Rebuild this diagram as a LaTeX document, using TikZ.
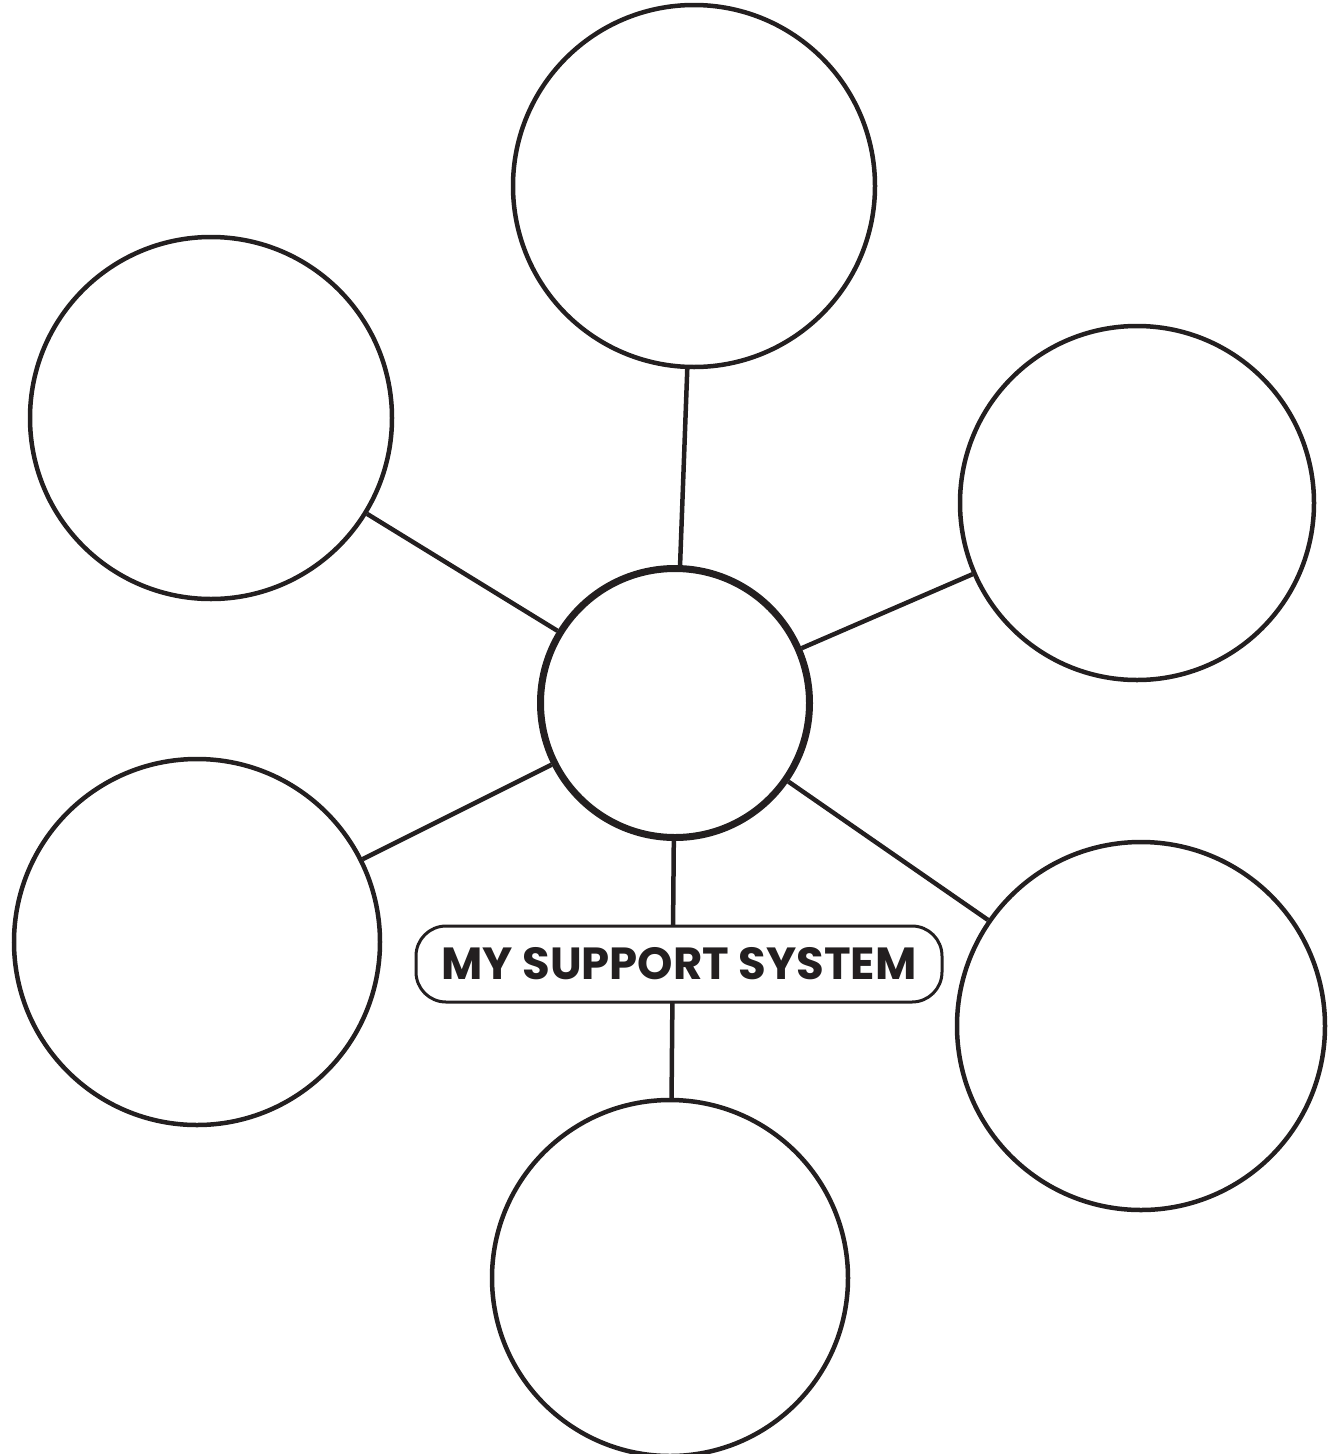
\documentclass[tikz,border=0pt]{standalone}
\usepackage{fontspec}
\setmainfont{Poppins}
\definecolor{ink}{HTML}{231F20}
\begin{document}
\begin{tikzpicture}[x=1pt,y=-1pt,
  bubble/.style={circle,draw=ink,line width=4.5pt,inner sep=0pt,minimum size=#1},
  link/.style={draw=ink,line width=4.5pt},
  tag/.style={draw=ink,line width=3pt,fill=white,rounded corners=30pt,minimum width=526pt,minimum height=76pt,inner sep=0pt,text=ink,font=\fontsize{45}{45}\selectfont\bfseries}]
\useasboundingbox (0,0) rectangle (1337,1454);
\node[bubble=362pt] (top) at (694,186) {};
\node[bubble=362pt] (tl) at (211,418) {};
\node[bubble=354pt] (r) at (1137,503) {};
\node[bubble=366pt] (l) at (197,942) {};
\node[bubble=368pt] (br) at (1141,1026) {};
\node[bubble=356pt] (b) at (670,1278) {};
\node[circle,draw=ink,line width=7pt,inner sep=0pt,minimum size=269pt] (c) at (675,703) {};
\draw[link] (c) -- (top);
\draw[link] (c) -- (tl);
\draw[link] (c) -- (r);
\draw[link] (c) -- (l);
\draw[link] (c) -- (br);
\draw[link] (c) -- (b);
\node[tag] (lab) at (679,964) {MY SUPPORT SYSTEM};
\end{tikzpicture}
\end{document}
